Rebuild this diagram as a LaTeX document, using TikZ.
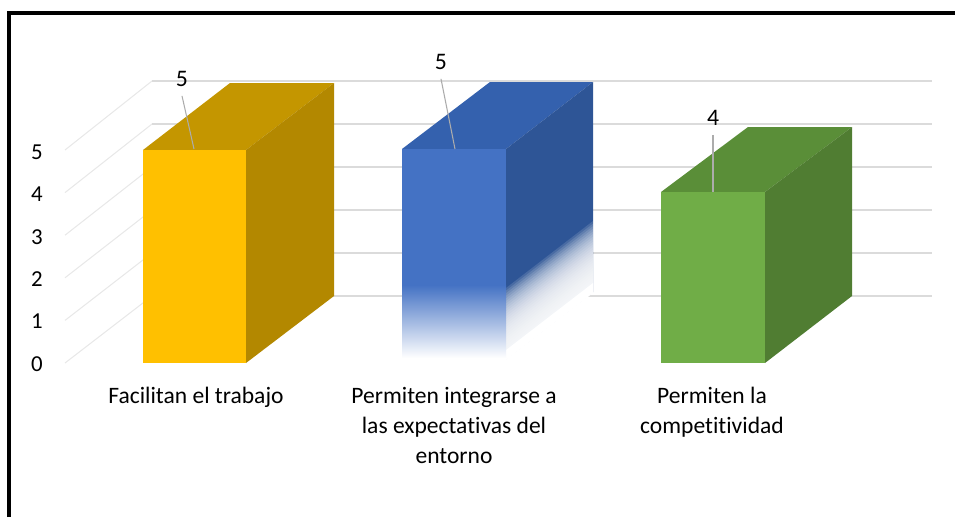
\documentclass[tikz,border=0pt]{standalone}
\usepackage{fontspec}
\setmainfont{Carlito}[Ligatures={NoCommon}]
\usepackage{tikz}

\definecolor{goldfront}{HTML}{FFC000}
\definecolor{goldtop}{HTML}{C49600}
\definecolor{goldside}{HTML}{B38800}
\definecolor{bluefront}{HTML}{4472C4}
\definecolor{bluetop}{HTML}{3461AE}
\definecolor{blueside}{HTML}{2E5596}
\definecolor{greenfront}{HTML}{70AD47}
\definecolor{greentop}{HTML}{5A8E38}
\definecolor{greenside}{HTML}{507D32}

\tikzset{
  gridline/.style={color=gray!28, line width=0.6pt},
  sideline/.style={color=gray!18, line width=0.6pt},
  ticklabel/.style={font=\fontsize{13}{15}\selectfont},
  valuelabel/.style={font=\fontsize{13.5}{15}\selectfont},
  catlabel/.style={font=\fontsize{13.4}{17.2}\selectfont, align=center, anchor=north},
  leader/.style={color=gray!65, line width=0.6pt}
}

\begin{document}
\begin{tikzpicture}[x=0.02cm,y=-0.02cm]
\useasboundingbox (0,0) rectangle (955,517);
% frame
\draw[line width=1.8pt] (9,517) -- (9,13) -- (955,13);

% walls
\foreach \k in {0,...,5}
{
  \draw[sideline] (65,{363-42.6*\k}) -- (152,{296-43*\k});
  \draw[gridline] (152,{296-43*\k}) -- (932,{296-43*\k});
}

% y labels
\foreach \k in {0,...,5}
  \node[ticklabel] (y\k) at (37,{364-42.4*\k}) {\k};

% bar 1
\filldraw[fill=goldtop, draw=none] (143,150) -- (230,83) -- (334,83) -- (246,150) -- cycle;
\filldraw[fill=goldside, draw=none] (246,150) -- (334,83) -- (334,296) -- (246,363) -- cycle;
\filldraw[fill=goldfront, draw=none] (143,150) rectangle (246,363);

% bar 2
\filldraw[fill=bluetop, draw=none] (402,149) -- (490,82) -- (593,82) -- (506,149) -- cycle;
\filldraw[fill=blueside, draw=none] (506,149) -- (593,82) -- (593,292) -- (506,359) -- cycle;
\foreach \i in {0,...,24}
  \fill[white, opacity=0.13] (506,{288+2.6*\i}) -- (593,{221+2.6*\i}) -- (593,292) -- (506,359) -- cycle;
\fill[white] (506,350) -- (593,283) -- (593,293) -- (506,360) -- cycle;
\fill[bluefront] (402,149) rectangle (506,286);
\shade[top color=bluefront, bottom color=white] (402,285) rectangle (506,358);

% bar 3
\filldraw[fill=greentop, draw=none] (661,192) -- (748,127) -- (852,127) -- (765,192) -- cycle;
\filldraw[fill=greenside, draw=none] (765,192) -- (852,127) -- (852,296) -- (765,363) -- cycle;
\filldraw[fill=greenfront, draw=none] (661,192) rectangle (765,363);

% values
\node[valuelabel] (v1) at (182,79) {5};
\node[valuelabel] (v2) at (441,62) {5};
\node[valuelabel] (v3) at (713,118) {4};
\coordinate (t1) at (194,149);
\coordinate (t2) at (455,149);
\coordinate (t3) at (713,192);
\draw[leader] (v1.south) ++(0,3) -- (t1);
\draw[leader] (v2.south) ++(0,3) -- (t2);
\draw[leader] (v3.south) ++(0,3) -- (t3);

% categories
\node[catlabel] (c1) at (196,381) {Facilitan el trabajo};
\node[catlabel] (c2) at (454,381) {Permiten integrarse a\\las expectativas del\\entorno};
\node[catlabel] (c3) at (712,381) {Permiten la\\competitividad};
\end{tikzpicture}
\end{document}
